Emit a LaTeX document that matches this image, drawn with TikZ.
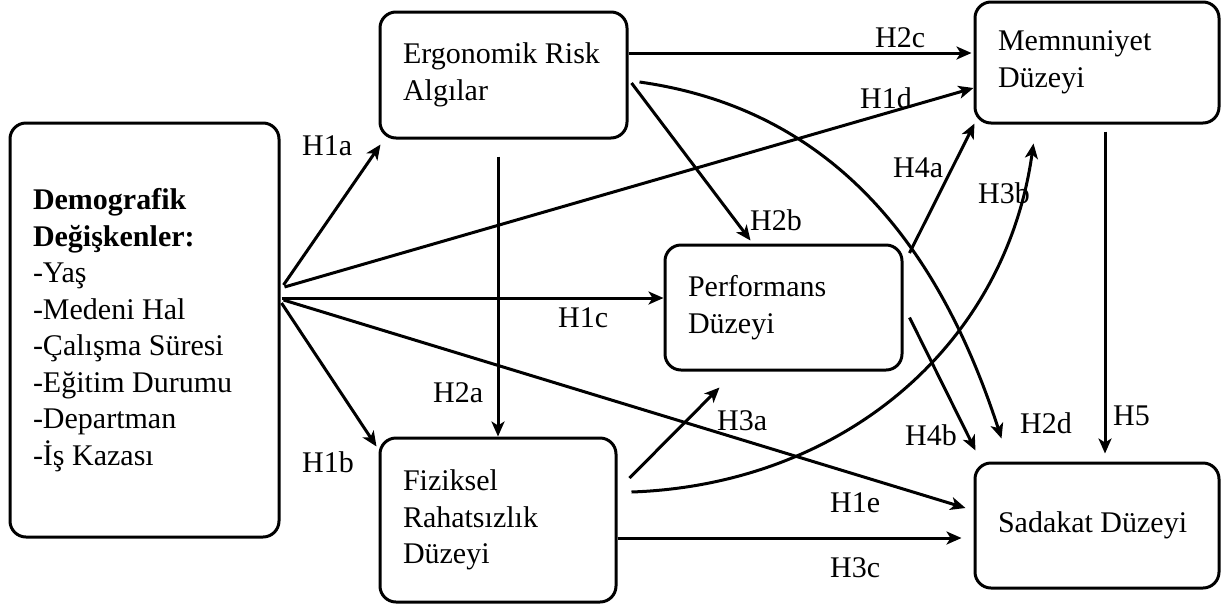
\documentclass[tikz,border=0pt]{standalone}
\usepackage{fontspec}
\setmainfont{Liberation Serif}
\usetikzlibrary{arrows.meta,calc}
\newcommand{\fsz}{\fontsize{30pt}{36.5pt}\selectfont}
\tikzset{
  box/.style={draw, line width=3pt, rounded corners=16pt, inner xsep=23pt, inner ysep=0pt, align=flush left, font=\fsz},
  lbl/.style={anchor=base west, inner sep=0pt, font=\fsz},
  arr/.style={line width=3pt, -{Stealth[length=15pt,width=13pt,inset=4pt]}}
}
\begin{document}
\begin{tikzpicture}[x=1pt,y=-1pt]
\useasboundingbox[fill=white] (0,0) rectangle (1223,606);
\node[box, text width=223pt, minimum height=414pt] (D) at (144.5,330) {\textbf{Demografik}\\\textbf{Değişkenler:}\\-Yaş\\-Medeni Hal\\-Çalışma Süresi\\-Eğitim Durumu\\-Departman\\-İş Kazası};
\node[box, text width=201pt, minimum height=126pt] (E) at (503.5,75) {Ergonomik Risk\\Algılar};
\node[box, text width=191pt, minimum height=125pt] (P) at (783.5,307.5) {Performans\\Düzeyi};
\node[box, text width=190pt, minimum height=164pt] (F) at (498,520) {Fiziksel\\Rahatsızlık\\Düzeyi};
\node[box, text width=198pt, minimum height=121pt] (M) at (1097,62.5) {Memnuniyet\\Düzeyi};
\node[box, text width=198pt, minimum height=125pt] (S) at (1097,525.5) {Sadakat Düzeyi};

\draw[arr] ($(D.east)+(3,-45)$) -- ($(E.south west)+(2,5)$);
\draw[arr] ($(D.east)+(1,-27)$) -- ($(F.north west)+(-2,10)$);
\draw[arr] ($(D.east)+(1,-32)$) -- ($(P.west)+(0,-9.5)$);
\draw[arr] ($(D.east)+(4,-43)$) -- ($(M.west)+(0,25.5)$);
\draw[arr] ($(D.east)+(3,-30)$) -- ($(S.west)+(-8,-17.5)$);
\draw[arr] ($(E.south)+(-5.5,17)$) -- (F.north);
\draw[arr] ($(E.east)+(3,8)$) -- ($(P.north west)+(87,-3)$);
\draw[arr] ($(E.east)+(0,-22)$) -- ($(M.west)+(-2,-9.5)$);
\draw[arr] ($(E.east)+(11,7)$) to[out=-8,in=108] ($(S.north west)+(28,-23)$);
\draw[arr] ($(F.east)+(12,-42)$) -- ($(P.south west)+(56,16)$);
\draw[arr] ($(F.east)+(14,-28)$) to[out=2,in=-98] ($(M.south west)+(60,19)$);
\draw[arr] ($(F.east)+(0,18)$) -- ($(S.west)+(-12,12.5)$);
\draw[arr] ($(P.east)+(6,-54.5)$) -- ($(M.south west)+(1,-1)$);
\draw[arr] ($(P.east)+(6,10)$) -- ($(S.north west)+(2,-11)$);
\draw[arr] ($(M.south)+(8,7)$) -- ($(S.north)+(8,-8)$);

\node[lbl] (l1a) at (302,155) {H1a};
\node[lbl] (l1b) at (302,472) {H1b};
\node[lbl] (l2a) at (433,402) {H2a};
\node[lbl] (l1c) at (558,327) {H1c};
\node[lbl] (l2c) at (875,47) {H2c};
\node[lbl] (l1d) at (860,108) {H1d};
\node[lbl] (l2b) at (750,230) {H2b};
\node[lbl] (l4a) at (893,177) {H4a};
\node[lbl] (l3b) at (978,203) {H3b};
\node[lbl] (l2d) at (1020,433) {H2d};
\node[lbl] (l4b) at (905,445) {H4b};
\node[lbl] (l3a) at (717,430) {H3a};
\node[lbl] (l1e) at (830,512) {H1e};
\node[lbl] (l3c) at (830,577) {H3c};
\node[lbl] (l5) at (1113,425) {H5};
\end{tikzpicture}
\end{document}
